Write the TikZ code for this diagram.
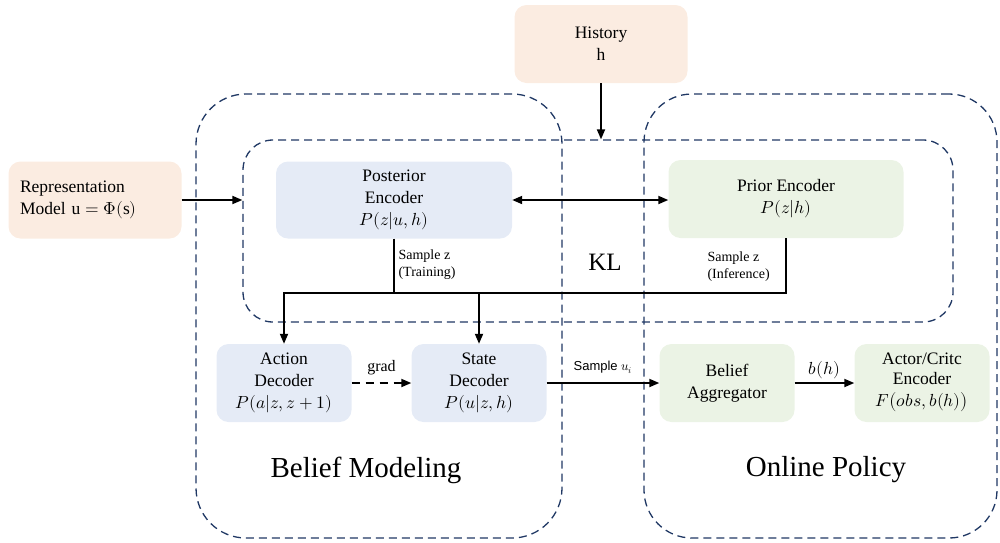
\documentclass[tikz,border=0pt]{standalone}
\usepackage{amsmath,amssymb}
\usepackage{fontspec}
\usepackage{unicode-math}
\setmainfont{Liberation Serif}
\setsansfont{Liberation Sans}
\setmathfont{Latin Modern Math}
\usetikzlibrary{arrows.meta,positioning}

\definecolor{peach}{HTML}{FBECE1}
\definecolor{paleblue}{HTML}{E5EBF6}
\definecolor{palegreen}{HTML}{EBF3E5}
\definecolor{navy}{HTML}{203864}

\begin{document}
\begin{tikzpicture}[x=1pt, y=-1pt, >={Triangle[length=10pt,width=8pt]},
  every node/.style={font=\fontsize{17.5}{22}\selectfont},
  block/.style={rounded corners=12pt, minimum width=135pt, minimum height=78pt, align=center, inner sep=2pt},
  frame/.style={draw=navy, line width=1.3pt, dash pattern=on 8pt off 5pt},
  link/.style={line width=1.8pt},
  small/.style={font=\fontsize{14}{17}\selectfont}]
  \useasboundingbox (0,0) rectangle (1000,542);

  % dashed groups
  \node[frame, rounded corners=50pt, minimum width=366pt, minimum height=444pt] (model) at (379,316) {};
  \node[frame, rounded corners=48pt, minimum width=353pt, minimum height=444pt] (policy) at (820.5,316) {};
  \node[frame, rounded corners=30pt, minimum width=710pt, minimum height=182pt] (kl) at (598,231) {};

  \node[font=\fontsize{29}{33}\selectfont] (modeltitle) at (366,470) {Belief Modeling};
  \node[font=\fontsize{29}{33}\selectfont] (policytitle) at (826,470) {Online Policy};
  \node[font=\fontsize{25}{29}\selectfont] (kltitle) at (605,262) {KL};

  % boxes
  \node[block, fill=peach, minimum width=173pt] (history) at (601,44) {History\\h};
  \node[block, fill=peach, minimum width=173pt, minimum height=77pt, text width=150pt, align=left] (repr) at (95,200) {Representation\\Model $\mathrm{u}=\Phi(\mathrm{s})$};
  \node[block, fill=paleblue, minimum width=236pt, minimum height=77pt] (post) at (394,200) {Posterior\\Encoder\\$P(z|u,h)$};
  \node[block, fill=palegreen, minimum width=235pt] (prior) at (786,199) {Prior Encoder\\$P(z|h)$};
  \node[block, fill=paleblue] (act) at (284,383) {Action\\Decoder\\$P(a|z,z+1)$};
  \node[block, fill=paleblue] (state) at (479,383) {State\\Decoder\\$P(u|z,h)$};
  \node[block, fill=palegreen] (belief) at (727,383) {Belief\\Aggregator};
  \node[block, fill=palegreen, font=\fontsize{17.5}{20}\selectfont] (actor) at (922,383) {Actor/Critc\\Encoder\\[2pt]$F\big(obs,b(h)\big)$};

  \coordinate (zline) at (283,293);
  \node[small, anchor=west, align=left] (trainlabel) at (395,265) {Sample z\\(Training)};
  \node[small, anchor=west, align=left] (inferlabel) at (704,267) {Sample z\\(Inference)};

  % connectors
  \draw[link, ->] (history.south) -- (history.south |- kl.north);
  \draw[link, ->] (repr.east) -- (repr.east -| kl.west);
  \draw[link, <->] (post.east) -- (post.east -| prior.west);
  \draw[link] (post.south) -- (post.south |- zline);
  \draw[link, ->] (prior.south) |- (act.north |- zline) -- (act.north);
  \draw[link, ->] (state.north |- zline) -- (state.north);
  \draw[link, ->, dash pattern=on 8pt off 6pt] (act.east) -- node[above=4pt, font=\fontsize{16}{19}\selectfont] (gradlabel) {grad} (state.west);
  \draw[link, ->] (state.east) -- node[above=5pt, font=\sffamily\fontsize{13}{15}\selectfont] (samplelabel) {Sample $u_i$} (belief.west);
  \draw[link, ->] (belief.east) -- node[above] (blabel) {$b(h)$} (actor.west);
\end{tikzpicture}
\end{document}
